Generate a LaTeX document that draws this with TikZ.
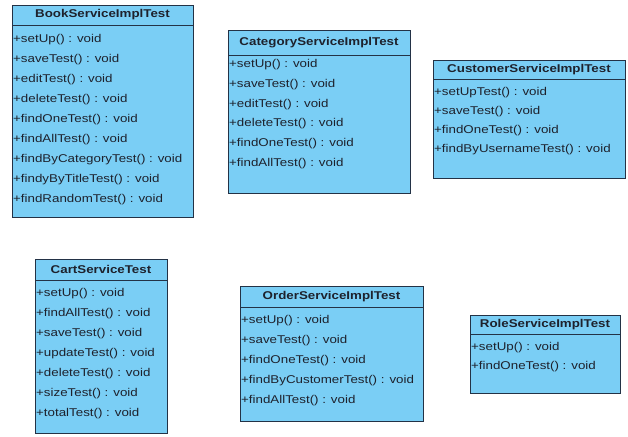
\documentclass[tikz,border=0pt]{standalone}
\usepackage{fontspec}
\setmainfont[FakeStretch=1.18]{Liberation Sans}
\definecolor{boxcol}{RGB}{122,206,245}
\definecolor{bordercol}{RGB}{35,50,70}
\definecolor{txtcol}{RGB}{30,34,45}
\tikzset{
  hdrbox/.style={draw=bordercol, fill=boxcol, line width=0.9pt, anchor=north west,
    inner sep=0pt, outer sep=0pt, font=\fontsize{11.3}{13}\selectfont\bfseries, text=txtcol},
  bodybox/.style={draw=bordercol, fill=boxcol, line width=0.9pt, anchor=north,
    inner sep=0pt, outer sep=0pt},
  op/.style={anchor=west, inner sep=0pt, text=txtcol, font=\fontsize{11.3}{13}\selectfont}
}
\begin{document}
\begin{tikzpicture}[x=1pt,y=-1pt]
\useasboundingbox[fill=white] (0,0) rectangle (628,436);

% BookServiceImplTest
\node[hdrbox, minimum width=181pt, minimum height=20pt] (bookh) at (12,5) {BookServiceImplTest};
\node[bodybox, minimum width=181pt, minimum height=192pt] (bookb) at (bookh.south) {};
\node[op] (b1) at (13,40) {+setUp() : void};
\node[op] (b2) at (13,60) {+saveTest() : void};
\node[op] (b3) at (13,80) {+editTest() : void};
\node[op] (b4) at (13,100) {+deleteTest() : void};
\node[op] (b5) at (13,120) {+findOneTest() : void};
\node[op] (b6) at (13,140) {+findAllTest() : void};
\node[op] (b7) at (13,160) {+findByCategoryTest() : void};
\node[op] (b8) at (13,180) {+findyByTitleTest() : void};
\node[op] (b9) at (13,200) {+findRandomTest() : void};

% CategoryServiceImplTest
\node[hdrbox, minimum width=182pt, minimum height=25pt] (cath) at (228,30) {CategoryServiceImplTest};
\node[bodybox, minimum width=182pt, minimum height=138pt] (catb) at (cath.south) {};
\node[op] (c1) at (229,65) {+setUp() : void};
\node[op] (c2) at (229,85) {+saveTest() : void};
\node[op] (c3) at (229,105) {+editTest() : void};
\node[op] (c4) at (229,124) {+deleteTest() : void};
\node[op] (c5) at (229,144) {+findOneTest() : void};
\node[op] (c6) at (229,164) {+findAllTest() : void};

% CustomerServiceImplTest
\node[hdrbox, minimum width=192pt, minimum height=19pt] (custh) at (433,60) {CustomerServiceImplTest};
\node[bodybox, minimum width=192pt, minimum height=99pt] (custb) at (custh.south) {};
\node[op] (u1) at (434,93) {+setUpTest() : void};
\node[op] (u2) at (434,112) {+saveTest() : void};
\node[op] (u3) at (434,131) {+findOneTest() : void};
\node[op] (u4) at (434,150) {+findByUsernameTest() : void};

% CartServiceTest
\node[hdrbox, minimum width=132pt, minimum height=21pt] (carth) at (35,259) {CartServiceTest};
\node[bodybox, minimum width=132pt, minimum height=153pt] (cartb) at (carth.south) {};
\node[op] (t1) at (36,294) {+setUp() : void};
\node[op] (t2) at (36,314) {+findAllTest() : void};
\node[op] (t3) at (36,334) {+saveTest() : void};
\node[op] (t4) at (36,354) {+updateTest() : void};
\node[op] (t5) at (36,374) {+deleteTest() : void};
\node[op] (t6) at (36,394) {+sizeTest() : void};
\node[op] (t7) at (36,414) {+totalTest() : void};

% OrderServiceImplTest
\node[hdrbox, minimum width=183pt, minimum height=21pt] (ordh) at (240,286) {OrderServiceImplTest};
\node[bodybox, minimum width=183pt, minimum height=114pt] (ordb) at (ordh.south) {};
\node[op] (o1) at (241,321) {+setUp() : void};
\node[op] (o2) at (241,341) {+saveTest() : void};
\node[op] (o3) at (241,361) {+findOneTest() : void};
\node[op] (o4) at (241,381) {+findByCustomerTest() : void};
\node[op] (o5) at (241,401) {+findAllTest() : void};

% RoleServiceImplTest
\node[hdrbox, minimum width=150pt, minimum height=19pt] (roleh) at (470,315) {RoleServiceImplTest};
\node[bodybox, minimum width=150pt, minimum height=59pt] (roleb) at (roleh.south) {};
\node[op] (r1) at (471,348) {+setUp() : void};
\node[op] (r2) at (471,367) {+findOneTest() : void};
\end{tikzpicture}
\end{document}
